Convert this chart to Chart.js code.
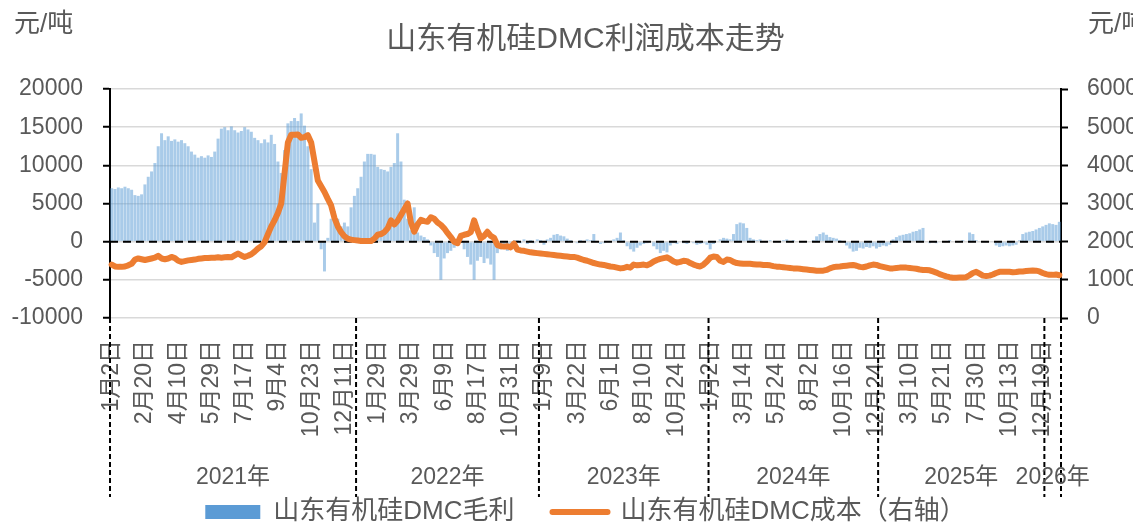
<!DOCTYPE html>
<html>
<head>
<meta charset="utf-8">
<script src="https://cdn.jsdelivr.net/npm/chart.js"></script>
<style>
  html, body { margin: 0; padding: 0; background: #fff; }
</style>
</head>
<body>
<canvas id="chart" width="1133" height="522"></canvas>
<script>
const fontFamily = "'Liberation Sans', 'Noto Sans CJK SC', sans-serif";
const textColor = '#595959';

const titleText = '山东有机硅DMC利润成本走势';
const unitLabel = '元/吨';
const profitName = '山东有机硅DMC毛利';
const costName = '山东有机硅DMC成本（右轴）';

// one label every 10 categories
const tickLabels = [
  '1月2日', '2月20日', '4月10日', '5月29日', '7月17日', '9月4日', '10月23日', '12月11日',
  '1月29日', '3月29日', '6月9日', '8月17日', '10月31日',
  '1月9日', '3月22日', '6月1日', '8月10日', '10月24日',
  '1月2日', '3月14日', '5月24日', '8月2日', '10月16日', '12月24日',
  '3月10日', '5月21日', '7月30日', '10月13日', '12月19日'
];
const yearNames = ['2021年', '2022年', '2023年', '2024年', '2025年', '2026年'];
const yearStarts = [0, 74, 129, 180, 231, 281];

// 毛利 (元/吨, left axis)
const profit = [
  7000, 6900, 7100, 7000, 7200, 7000, 6800, 6100, 6000, 6200,
  7500, 8500, 9200, 10300, 12500, 14200, 13300, 13800, 13200, 13400,
  13100, 13300, 12900, 12500, 11800, 11400, 11000, 11200, 11000, 11300,
  11100, 11800, 13500, 14800, 15000, 14600, 15100, 14600, 14300, 14500,
  15000, 14700, 14400, 13600, 13300, 12900, 13400, 13000, 14000, 12800,
  10500, 9000, 12000, 15500, 15800, 16200, 15800, 16800, 15200, 12500,
  9500, 2500, 5000, -1000, -3900, 500, 3000, 4000, 3000, 2000,
  2500, 2000, 4500, 6000, 7000, 8500, 10500, 11500, 11500, 11400,
  9800, 9500, 9400, 9200, 9800, 10300, 14200, 10500, 5500, 3000,
  1500, 4500, 1200, 800, 600, 300, -500, -1500, -2000, -5000,
  -2200, -1500, -1200, -800, -300, 500, -1000, -2000, -3000, -5000,
  -2500, -2000, -2800, -2200, -3000, -5000, -1500, -1000, -800, -1200,
  -600, -300, 200, -200, 300, -300, 200, -200, 300, 200,
  -400, 300, 500, 900, 1000, 800, 700, 400, 200, 100,
  -200, 200, 100, 300, 200, 1000, 100, -300, -200, 100,
  0, 300, 500, 1200, 200, -600, -1000, -1300, -800, -500,
  -300, -200, -100, -600, -1000, -1500, -1200, -1400, -500, -200,
  -300, 100, -200, -300, -100, -200, -400, -300, -200, -400,
  -1000, -300, 100, 300, 500, 400, 300, 1000, 2300, 2500,
  2400, 1800, 500, 300, 200, 300, 100, 0, 200, 100,
  100, 0, 200, 300, 100, 200, 100, 0, 100, -100,
  0, 200, 700, 1000, 1200, 900, 600, 500, 400, 200,
  -100, -500, -900, -1300, -1200, -800, -900, -700, -800, -600,
  -900, -700, -500, -600, -400, 300, 600, 800, 900, 1000,
  1100, 1300, 1400, 1600, 1800, -100, -200, -100, -200, 0,
  -100, 100, 200, 100, 0, 100, 200, 100, 1200, 1000,
  200, 100, 0, 100, 0, -100, -500, -700, -600, -500,
  -600, -500, -400, 200, 1000, 1200, 1300, 1400, 1600, 1800,
  2000, 2200, 2400, 2300, 2200, 2600
];

// 成本 (元/吨, right axis)
const cost = [
  1400, 1350, 1340, 1340, 1350, 1380, 1420, 1530, 1560, 1540,
  1520, 1540, 1560, 1580, 1630, 1560, 1540, 1560, 1600, 1570,
  1500, 1470, 1490, 1510, 1520, 1530, 1550, 1560, 1570, 1570,
  1580, 1580, 1590, 1580, 1590, 1600, 1590, 1640, 1690, 1640,
  1600, 1630, 1670, 1740, 1820, 1880, 1990, 2200, 2400, 2560,
  2750, 3000, 3800, 4600, 4800, 4800, 4810, 4720, 4740, 4790,
  4600, 4100, 3600, 3450, 3300, 3120, 2950, 2620, 2400, 2250,
  2140, 2080, 2050, 2040, 2030, 2020, 2020, 2015, 2018, 2080,
  2180, 2200, 2250, 2350, 2560, 2450, 2550, 2700, 2850, 3000,
  2500, 2260, 2450, 2570, 2540, 2520, 2640, 2600, 2500, 2440,
  2350, 2230, 2120, 2000, 1960, 2150, 2180, 2200, 2250, 2560,
  2300, 2090, 2150, 2260, 2150, 2100, 1910, 1880, 1870, 1880,
  1850, 1950, 1790, 1770, 1760, 1740, 1720, 1710, 1700, 1690,
  1680, 1670, 1660, 1650, 1640, 1630, 1620, 1610, 1600, 1600,
  1580, 1550, 1520, 1500, 1470, 1440, 1420, 1400, 1390, 1370,
  1350, 1340, 1320, 1300, 1310, 1340, 1320, 1400, 1380, 1390,
  1400, 1380, 1420, 1480, 1520, 1550, 1570, 1590, 1540, 1480,
  1450, 1470, 1500, 1490, 1440, 1400, 1370, 1350, 1400, 1480,
  1580, 1610, 1600, 1500, 1470, 1530, 1520, 1470, 1440, 1430,
  1420, 1420, 1420, 1410, 1400, 1400, 1390, 1390, 1380, 1360,
  1345, 1340, 1330, 1320, 1310, 1300, 1300, 1290, 1280, 1270,
  1260, 1250, 1240, 1240, 1240, 1260, 1300, 1330, 1345, 1350,
  1360, 1370, 1380, 1390, 1370, 1340, 1330, 1350, 1380, 1400,
  1390, 1360, 1340, 1320, 1300, 1300, 1310, 1320, 1320, 1320,
  1310, 1300, 1290, 1270, 1260, 1260, 1250, 1220, 1190, 1150,
  1120, 1090, 1070, 1057, 1055, 1060, 1060, 1070, 1120, 1180,
  1210, 1160, 1110, 1100, 1110, 1140, 1180, 1210, 1210, 1210,
  1210, 1200, 1205, 1220, 1220, 1230, 1240, 1245, 1240, 1220,
  1180, 1150, 1130, 1130, 1140, 1120
];

const categories = profit.map((v, i) => (i % 10 === 0 ? tickLabels[i / 10] : ''));

// zero line sits between the bars and the cost line; years + units under/around the axes
const extras = {
  id: 'extras',
  afterDatasetDraw(chart, args) {
    if (args.index !== 0) return;
    const { ctx, chartArea, scales } = chart;
    const y0 = scales.y.getPixelForValue(0);
    ctx.save();
    ctx.strokeStyle = '#000';
    ctx.lineWidth = 2;
    ctx.setLineDash([8, 5]);
    ctx.beginPath();
    ctx.moveTo(chartArea.left, y0);
    ctx.lineTo(chartArea.right, y0);
    ctx.stroke();
    ctx.restore();
  },
  afterDraw(chart) {
    const { ctx, chartArea, scales } = chart;
    const x = scales.x;
    const edges = yearStarts.map(s => s === 0 ? chartArea.left
      : (x.getPixelForValue(s - 1) + x.getPixelForValue(s)) / 2);
    edges.push(chartArea.right);
    ctx.save();
    ctx.strokeStyle = '#000';
    ctx.lineWidth = 2;
    ctx.setLineDash([5, 3]);
    edges.forEach(px => {
      ctx.beginPath();
      ctx.moveTo(px, chartArea.bottom);
      ctx.lineTo(px, chartArea.bottom + 179);
      ctx.stroke();
    });
    ctx.setLineDash([]);
    ctx.fillStyle = textColor;
    ctx.font = '23px ' + fontFamily;
    ctx.textAlign = 'center';
    ctx.textBaseline = 'middle';
    yearNames.forEach((name, k) => {
      ctx.fillText(name, (edges[k] + edges[k + 1]) / 2, chartArea.bottom + 160);
    });
    ctx.font = '26px ' + fontFamily;
    ctx.textAlign = 'left';
    ctx.fillText(unitLabel, 14, 25);
    ctx.fillText(unitLabel, chartArea.right + 27, 25);
    ctx.restore();
  }
};

const ctx = document.getElementById('chart').getContext('2d');
new Chart(ctx, {
  type: 'bar',
  data: {
    labels: categories,
    datasets: [{
      label: profitName,
      data: profit,
      yAxisID: 'y',
      order: 1,
      backgroundColor: 'rgba(91,155,213,0.52)',
      borderWidth: 0,
      barPercentage: 1,
      categoryPercentage: 0.9
    }, {
      type: 'line',
      label: costName,
      data: cost,
      yAxisID: 'y1',
      order: 0,
      borderColor: '#ED7D31',
      backgroundColor: '#ED7D31',
      borderWidth: 6,
      borderJoinStyle: 'round',
      borderCapStyle: 'round',
      pointRadius: 0,
      tension: 0
    }]
  },
  options: {
    responsive: false,
    animation: false,
    layout: { padding: { left: 0, right: 0, top: 0, bottom: -13 } },
    scales: {
      x: {
        type: 'category',
        grid: { display: false, drawTicks: false },
        border: { display: false },
        ticks: {
          autoSkip: false,
          minRotation: 90,
          maxRotation: 90,
          padding: 22,
          color: textColor,
          font: { size: 23, family: fontFamily }
        },
        afterFit: s => { s.height = 143; }
      },
      y: {
        position: 'left',
        min: -10000,
        max: 20000,
        grid: { color: '#D9D9D9', lineWidth: 1.5, tickLength: 7, tickColor: '#000', tickWidth: 2 },
        border: { color: '#000', width: 2 },
        ticks: {
          stepSize: 5000,
          padding: 20,
          color: textColor,
          font: { size: 23, family: fontFamily },
          callback: v => String(v)
        },
        afterFit: s => { s.width = 110; }
      },
      y1: {
        position: 'right',
        min: 0,
        max: 6000,
        grid: { drawOnChartArea: false, tickLength: 7, tickColor: '#000', tickWidth: 2 },
        border: { color: '#000', width: 2 },
        ticks: {
          stepSize: 1000,
          padding: 19,
          color: textColor,
          font: { size: 23, family: fontFamily },
          callback: v => String(v)
        },
        afterFit: s => { s.width = 72; }
      }
    },
    plugins: {
      title: {
        display: true,
        text: titleText,
        fullSize: false,
        color: textColor,
        font: { size: 30, weight: 'normal', family: fontFamily },
        padding: { top: 22, bottom: 31 }
      },
      legend: {
        position: 'bottom',
        fullSize: false,
        labels: {
          usePointStyle: true,
          pointStyleWidth: 55,
          boxHeight: 14,
          padding: 38,
          color: textColor,
          font: { size: 26, family: fontFamily },
          generateLabels(chart) {
            const items = Chart.defaults.plugins.legend.labels.generateLabels(chart);
            items.sort((a, b) => a.datasetIndex - b.datasetIndex);
            items[0].pointStyle = 'rect';
            items[0].fillStyle = '#5B9BD5';
            items[0].strokeStyle = '#5B9BD5';
            items[0].lineWidth = 0;
            items[1].pointStyle = 'line';
            items[1].strokeStyle = '#ED7D31';
            items[1].lineWidth = 6;
            items[1].lineCap = 'round';
            return items;
          }
        }
      },
      tooltip: { enabled: false }
    }
  },
  plugins: [extras]
});
</script>
</body>
</html>
